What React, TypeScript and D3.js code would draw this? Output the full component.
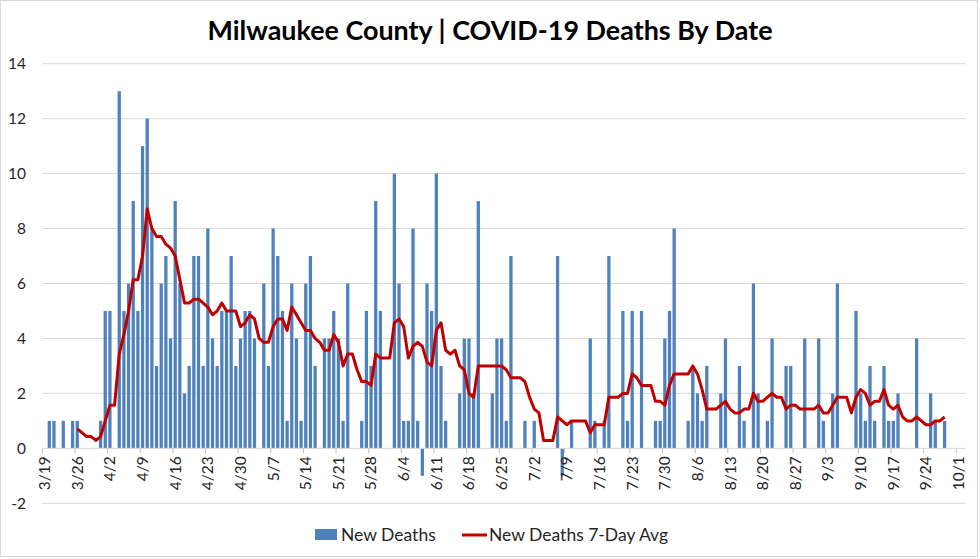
import React from "react";
import * as d3 from "d3";

// ---------- DATA ----------
const startDate = new Date(2020, 2, 19); // 3/19
const daySlots = 198; // 3/19 .. 10/3 category slots on the axis

// New deaths per day, starting 3/19
const newDeaths: number[] = [
  0, 1, 1, 0, 1, 0, 1, 1, 0, 0, 0, 0, 1, 5, 5, 0, 13, 5, 6, 9,
  5, 11, 12, 8, 3, 6, 7, 4, 9, 6, 2, 3, 7, 7, 3, 8, 4, 3, 5, 5,
  7, 3, 4, 5, 5, 4, 0, 6, 3, 8, 7, 5, 1, 6, 4, 1, 6, 7, 3, 0,
  4, 4, 5, 4, 1, 6, 0, 0, 1, 5, 3, 9, 5, 0, 0, 10, 6, 1, 1, 8,
  1, -1, 6, 5, 10, 3, 1, 0, 0, 2, 4, 4, 2, 9, 0, 0, 2, 4, 4, 1,
  7, 0, 0, 1, 0, 1, 0, 0, 0, 0, 7, -1, 0, 1, 0, 0, 0, 4, 1, 0,
  1, 7, 0, 0, 5, 1, 5, 0, 5, 0, 0, 1, 1, 4, 5, 8, 0, 0, 1, 3,
  2, 1, 3, 0, 0, 2, 4, 0, 0, 3, 1, 0, 6, 2, 0, 1, 4, 0, 0, 3,
  3, 0, 0, 4, 0, 0, 4, 1, 0, 2, 6, 0, 0, 0, 5, 2, 1, 3, 1, 0,
  3, 1, 1, 2, 0, 0, 0, 4, 0, 0, 2, 1, 0, 1,
];

// 7-day average, first value on 3/26
const avgStartDay = 7;
const avg7: number[] = [
  0.71, 0.57, 0.43, 0.43, 0.29, 0.43, 1.0, 1.57, 1.57, 3.43,
  4.14, 5.0, 6.14, 6.14, 7.0, 8.71, 8.0, 7.71, 7.71, 7.43,
  7.29, 7.0, 6.14, 5.29, 5.29, 5.43, 5.43, 5.29, 5.14, 4.86,
  5.0, 5.29, 5.0, 5.0, 5.0, 4.43, 4.57, 4.86, 4.71, 4.0,
  3.86, 3.86, 4.43, 4.71, 4.71, 4.29, 5.14, 4.86, 4.57, 4.29,
  4.29, 4.0, 3.86, 3.57, 3.57, 4.14, 3.86, 3.0, 3.43, 3.43,
  2.86, 2.43, 2.43, 2.29, 3.43, 3.29, 3.29, 3.29, 4.57, 4.71,
  4.43, 3.29, 3.71, 3.86, 3.71, 3.14, 3.0, 4.29, 4.57, 3.57,
  3.43, 3.57, 3.0, 2.86, 2.0, 1.86, 3.0, 3.0, 3.0, 3.0,
  3.0, 3.0, 2.86, 2.57, 2.57, 2.57, 2.43, 1.86, 1.43, 1.29,
  0.29, 0.29, 0.29, 1.14, 1.0, 0.86, 1.0, 1.0, 1.0, 1.0,
  0.57, 0.86, 0.86, 0.86, 1.86, 1.86, 1.86, 2.0, 2.0, 2.71,
  2.57, 2.29, 2.29, 2.29, 1.71, 1.71, 1.57, 2.29, 2.71, 2.71,
  2.71, 2.71, 3.0, 2.71, 2.14, 1.43, 1.43, 1.43, 1.57, 1.71,
  1.43, 1.29, 1.29, 1.43, 1.43, 2.0, 1.71, 1.71, 1.86, 2.0,
  1.86, 1.86, 1.43, 1.57, 1.57, 1.43, 1.43, 1.43, 1.43, 1.57,
  1.29, 1.29, 1.57, 1.86, 1.86, 1.86, 1.29, 1.86, 2.14, 2.0,
  1.57, 1.71, 1.71, 2.14, 1.57, 1.43, 1.57, 1.14, 1.0, 1.0,
  1.14, 1.0, 0.86, 0.86, 1.0, 1.0, 1.14,
];

const yTicks: number[] = [-2, 0, 2, 4, 6, 8, 10, 12, 14];
const xTickLabels: string[] = [
  "3/19", "3/26", "4/2", "4/9", "4/16", "4/23", "4/30", "5/7", "5/14", "5/21",
  "5/28", "6/4", "6/11", "6/18", "6/25", "7/2", "7/9", "7/16", "7/23", "7/30",
  "8/6", "8/13", "8/20", "8/27", "9/3", "9/10", "9/17", "9/24", "10/1",
];

const titleText = "Milwaukee County | COVID-19 Deaths By Date";
const seriesNames = ["New Deaths", "New Deaths 7-Day Avg"];

// ---------- LAYOUT ----------
const W = 980;
const H = 559;
const plotLeft = 42.3;
const plotRight = 965.6;
const yTop = 63.7;
const yBottom = 503.3;
const barColor = "#4f81bd";
const lineColor = "#c00000";
const gridColor = "#d9d9d9";
const textColor = "#262626";
const font = "Lato, 'Open Sans', sans-serif";

export default function App() {
  const fmt = d3.timeFormat("%-m/%-d");
  const dates = d3.timeDay.range(startDate, d3.timeDay.offset(startDate, daySlots));
  const keys = dates.map((d) => fmt(d));

  const x = d3.scaleBand<string>().domain(keys).range([plotLeft, plotRight]).padding(0);
  const y = d3.scaleLinear().domain([-2, 14]).range([yBottom, yTop]);
  const bw = x.bandwidth();
  const barW = bw * 0.7;

  const barData = newDeaths.map((v, i) => ({ key: keys[i], v }));
  const lineData = avg7.map((v, i) => ({ key: keys[i + avgStartDay], v }));

  const line = d3
    .line<{ key: string; v: number }>()
    .x((d) => (x(d.key) as number) + bw / 2)
    .y((d) => y(d.v));

  const y0 = y(0);

  return (
    <svg
      width={W}
      height={H}
      style={{ position: "absolute", left: 0, top: 0, background: "#fff" }}
      fontFamily={font}
    >
      <rect x={0.5} y={0.5} width={977} height={556} fill="#fff" stroke={gridColor} />
      <text
        x={490}
        y={39.5}
        textAnchor="middle"
        fontSize={27}
        fontWeight={700}
        fill="#000"
        textLength={565}
        lengthAdjust="spacingAndGlyphs"
      >
        {titleText}
      </text>

      {/* gridlines */}
      {yTicks.map((t) => (
        <g key={t}>
          {t !== 0 && (
            <line x1={plotLeft} x2={plotRight} y1={y(t)} y2={y(t)} stroke={gridColor} strokeWidth={1} />
          )}
          <text x={26} y={y(t)} dy="0.35em" textAnchor="end" fontSize={15.5} fill={textColor}>
            {t}
          </text>
        </g>
      ))}

      {/* bars */}
      {barData
        .filter((d) => d.v !== 0)
        .map((d) => (
          <rect
            key={d.key}
            x={(x(d.key) as number) + (bw - barW) / 2}
            y={Math.min(y(d.v), y0)}
            width={barW}
            height={Math.abs(y(d.v) - y0)}
            fill={barColor}
          />
        ))}

      {/* x axis */}
      <line x1={plotLeft} x2={plotRight} y1={y0} y2={y0} stroke={gridColor} strokeWidth={1} />
      {xTickLabels.map((lab) => {
        const xx = x(lab) as number;
        return (
          <g key={lab}>
            <line x1={xx} x2={xx} y1={y0} y2={y0 + 5} stroke="#bfbfbf" strokeWidth={1} />
            <text
              transform={`translate(${xx + bw / 2},${y0 + 8}) rotate(-90)`}
              textAnchor="end"
              dy="0.35em"
              fontSize={15.5}
              fill={textColor}
            >
              {lab}
            </text>
          </g>
        );
      })}

      {/* 7-day average line */}
      <path d={line(lineData) || ""} fill="none" stroke={lineColor} strokeWidth={3} strokeLinejoin="round" />

      {/* legend */}
      <rect x={315} y={529} width={22} height={11} fill={barColor} />
      <text x={341} y={541} fontSize={17.5} fill={textColor}>
        {seriesNames[0]}
      </text>
      <line x1={462} x2={487} y1={535} y2={535} stroke={lineColor} strokeWidth={3} />
      <text x={489} y={541} fontSize={17.5} fill={textColor}>
        {seriesNames[1]}
      </text>
    </svg>
  );
}
